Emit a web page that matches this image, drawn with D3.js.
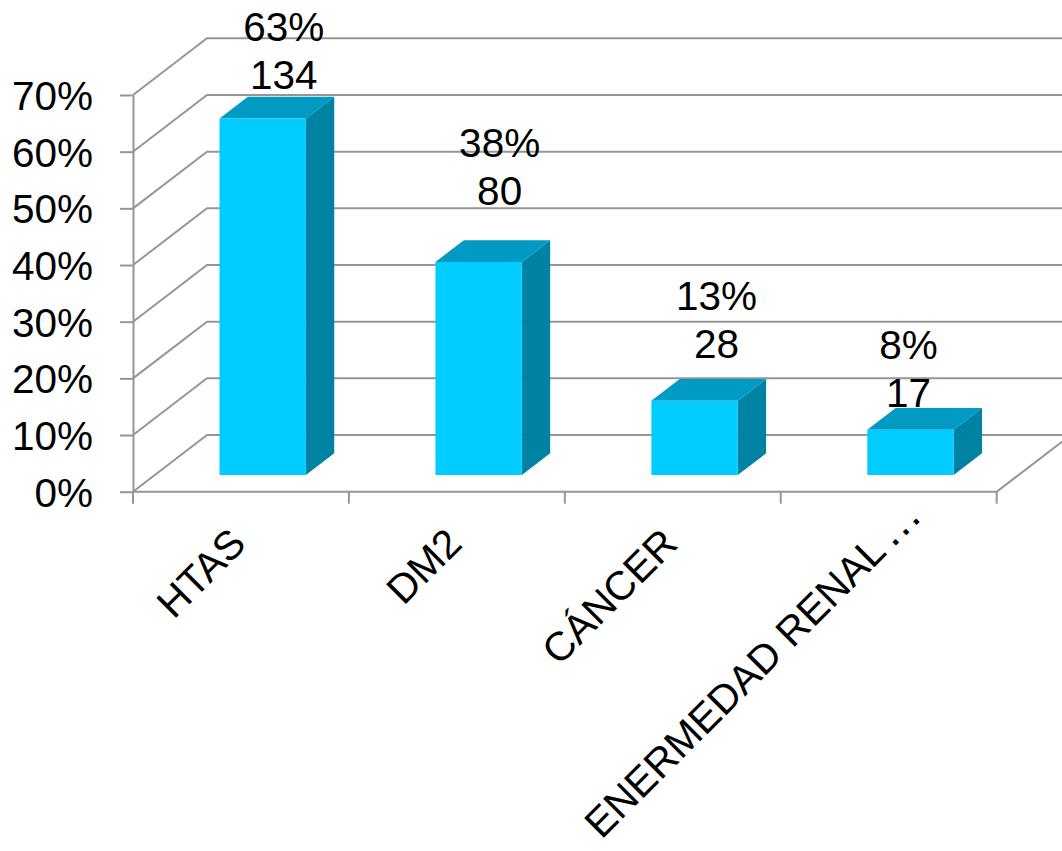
<!DOCTYPE html>
<html>
<head>
<meta charset="utf-8">
<script src="https://cdnjs.cloudflare.com/ajax/libs/d3/7.8.5/d3.min.js"></script>
<style>
  html, body { margin: 0; padding: 0; background: #fff; }
  svg { display: block; }
  text { font-family: "Liberation Sans", Arial, sans-serif; fill: #000; }
</style>
</head>
<body>
<svg id="chart" width="1062" height="851"></svg>
<script>
// ---- data ----
const categories = ["HTAS", "DM2", "CÁNCER", "ENERMEDAD RENAL…"];
const pctValues  = [0.629, 0.376, 0.131, 0.080];
const counts     = [134, 80, 28, 17];
const pctLabels  = ["63%", "38%", "13%", "8%"];
const yTicks     = [0, 0.1, 0.2, 0.3, 0.4, 0.5, 0.6, 0.7];

// ---- layout ----
const W = 1062, H = 851;
const X0 = 133, X1 = 996.7, Y0 = 491.7, Y1 = 95;
const DX = 74, DY = 56.7;          // depth offset of back wall
const D0 = 0.294, D1 = 0.677;      // bar depth span
const fontSize = 40.5;
const gridColor = "#969696";
const labelDy = [-30, -57, -43, -23];   // label nudges (count line baseline vs bar top)
const labelDx = [21, 21, 22, -2];
const catLabelShift = [0, 0, 0, 40];

const svg = d3.select("#chart");
svg.append("rect").attr("width", W).attr("height", H).attr("fill", "#fff");

const x = d3.scaleBand().domain(categories).range([X0, X1]).paddingInner(0.6).paddingOuter(0.3);
const y = d3.scaleLinear().domain([0, 0.7]).range([Y0, Y1]);
const proj = (px, py, t) => [px + t * DX, py - t * DY];
const line = d3.line();

// walls / gridlines
const grid = svg.append("g").attr("fill", "none").attr("stroke", gridColor).attr("stroke-width", 2);
yTicks.forEach(v => {
  const yy = y(v);
  grid.append("path").attr("d", line([[X0, yy], proj(X0, yy, 1), proj(X1 + 80, yy, 1)]));
});
// floor front edge and right edge
grid.append("path").attr("d", line([[X0, Y0], [X1, Y0], proj(X1, Y0, 1)]));
// category tick marks at band boundaries
d3.range(categories.length + 1).forEach(i => {
  const xx = X0 + i * (X1 - X0) / categories.length;
  grid.append("path").attr("d", line([[xx, Y0], [xx, Y0 + 12]]));
});

// y axis
const yAxis = d3.axisLeft(y).tickValues(yTicks).tickFormat(d3.format(".0%"))
  .tickSize(13).tickSizeOuter(0).tickPadding(27);
const yg = svg.append("g").attr("transform", `translate(${X0},0)`).call(yAxis);
yg.select(".domain").attr("stroke", gridColor).attr("stroke-width", 2);
yg.selectAll(".tick line").attr("stroke", gridColor).attr("stroke-width", 2);
yg.selectAll(".tick text").attr("font-size", fontSize).attr("font-family", "Liberation Sans, Arial, sans-serif")
  .attr("fill", "#000").attr("dy", "0.36em");

// bars
const bw = x.bandwidth();
const bars = svg.append("g");
categories.forEach((c, i) => {
  const bx0 = x(c), bx1 = bx0 + bw, yb = y(0), yt = y(pctValues[i]);
  const g = bars.append("g");
  g.append("path").attr("fill", "#0083A3")
    .attr("d", line([proj(bx1, yb, D0), proj(bx1, yb, D1), proj(bx1, yt, D1), proj(bx1, yt, D0)]) + "Z");
  g.append("path").attr("fill", "#009AC2")
    .attr("d", line([proj(bx0, yt, D0), proj(bx1, yt, D0), proj(bx1, yt, D1), proj(bx0, yt, D1)]) + "Z");
  g.append("path").attr("fill", "#00CCFF")
    .attr("d", line([proj(bx0, yb, D0), proj(bx1, yb, D0), proj(bx1, yt, D0), proj(bx0, yt, D0)]) + "Z");
});

// data labels
const lab = svg.append("g").attr("text-anchor", "middle").attr("font-size", fontSize);
categories.forEach((c, i) => {
  const [fx, fy] = proj(x(c) + bw / 2, y(pctValues[i]), D0);
  const lx = fx + labelDx[i];
  const ly = fy + labelDy[i];
  lab.append("text").attr("x", lx).attr("y", ly - 48).text(pctLabels[i]);
  lab.append("text").attr("x", lx).attr("y", ly).text(counts[i]);
});

// category labels
const cl = svg.append("g").attr("font-size", fontSize);
categories.forEach((c, i) => {
  const cx = x(c) + bw / 2 + 7;
  const t = cl.append("text")
    .attr("transform", `translate(${cx},${Y0 + 54}) rotate(-45)`)
    .attr("text-anchor", "end")
    .attr("dx", catLabelShift[i]);
  if (c.endsWith("…")) {
    t.append("tspan").text(c.slice(0, -1));
    t.append("tspan").attr("dx", 5).attr("font-size", 46).text("…");
  } else {
    t.text(c);
  }
});
</script>
</body>
</html>
